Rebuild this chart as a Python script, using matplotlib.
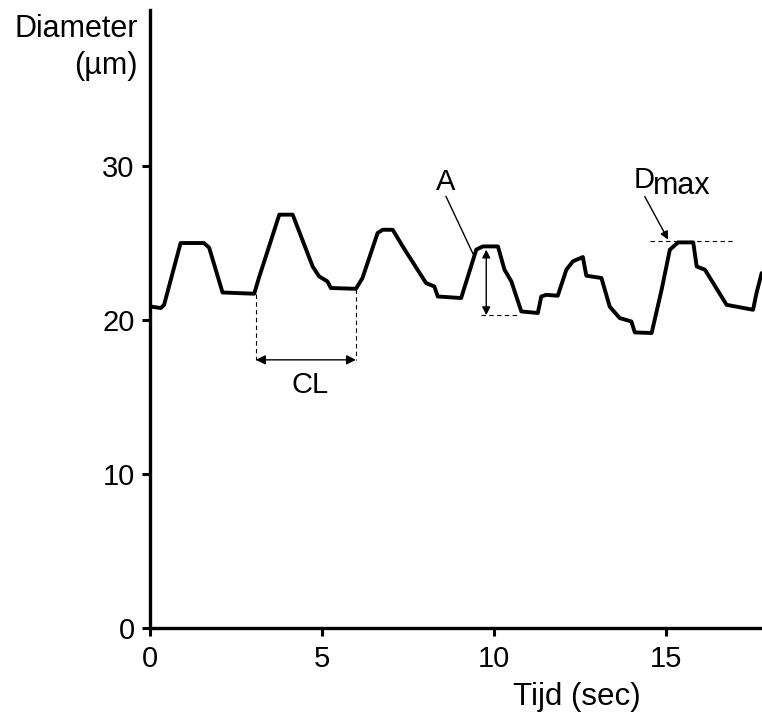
import matplotlib
matplotlib.use("Agg")
import matplotlib.pyplot as plt

plt.rcParams['font.family'] = ['Liberation Sans', 'DejaVu Sans']

# Diameter trace (time in sec, diameter in µm)
time_s = [0.02, 0.31, 0.41, 0.89, 1.57, 1.72, 2.11, 3.03, 3.18, 3.37, 3.76, 4.15,
          4.73, 4.92, 5.16, 5.26, 5.99, 6.18, 6.62, 6.77, 7.06, 7.35, 8.03, 8.27,
          8.37, 9.05, 9.49, 9.68, 10.12, 10.31, 10.51, 10.80, 11.28, 11.38, 11.53,
          11.86, 12.11, 12.30, 12.59, 12.69, 13.13, 13.37, 13.66, 14.00, 14.10,
          14.59, 14.88, 15.12, 15.36, 15.80, 15.90, 16.14, 16.77, 17.54, 17.64, 17.79]
diameter = [20.86, 20.76, 20.97, 24.98, 24.98, 24.68, 21.77, 21.69, 22.81, 24.11, 26.82, 26.82,
            23.46, 22.81, 22.49, 22.06, 22.01, 22.71, 25.63, 25.84, 25.84, 24.76, 22.38, 22.16,
            21.51, 21.41, 24.55, 24.76, 24.76, 23.25, 22.49, 20.54, 20.44, 21.51, 21.62,
            21.56, 23.25, 23.79, 24.07, 22.86, 22.71, 20.86, 20.11, 19.89, 19.18,
            19.14, 21.95, 24.55, 25.02, 25.02, 23.46, 23.25, 20.97, 20.65, 21.73, 23.03]

x_ticks = [0, 5, 10, 15]
y_ticks = [0, 10, 20, 30]

# annotation values
cl_start, cl_end = 3.08, 5.99          # cycle length markers
cl_level = 17.4
a_time, a_top, a_bottom = 9.78, 24.55, 20.3   # amplitude
dmax_level = 25.13

fig = plt.figure(figsize=(7.62, 7.16), dpi=100)
ax = fig.add_axes([150 / 762, 88 / 716, 612 / 762, 618 / 716])
ax.set_xlim(0, 17.8)
ax.set_ylim(0, 40.1)

ax.plot(time_s, diameter, color='black', lw=2.8, solid_joinstyle='round',
        solid_capstyle='round', clip_on=False)

for s in ['top', 'right']:
    ax.spines[s].set_visible(False)
for s in ['left', 'bottom']:
    ax.spines[s].set_linewidth(2.4)

ax.set_xticks(x_ticks)
ax.set_yticks(y_ticks)
ax.tick_params(axis='both', labelsize=21, width=2.2, length=6, direction='out')
ax.tick_params(axis='x', pad=6)
ax.tick_params(axis='y', pad=5)

# labels
fig.text(138 / 762, 1 - 37 / 716, 'Diameter', ha='right', va='baseline', fontsize=22)
fig.text(138 / 762, 1 - 74 / 716, '(µm)', ha='right', va='baseline', fontsize=22)
fig.text(577 / 762, 1 - 705 / 716, 'Tijd (sec)', ha='center', va='baseline', fontsize=22.5)

dash = dict(color='black', lw=0.8, ls=(0, (4, 3)))
# CL
ax.plot([cl_start, cl_start], [21.7, cl_level], **dash)
ax.plot([cl_end, cl_end], [22.0, cl_level], **dash)
ax.annotate('', xy=(cl_start, cl_level), xytext=(cl_end, cl_level),
            arrowprops=dict(arrowstyle='<|-|>', color='black', lw=1.0,
                            mutation_scale=14, shrinkA=0, shrinkB=0))
ax.text((cl_start + cl_end) / 2 + 0.12, 15.24, 'CL', ha='center', va='baseline', fontsize=21)

# A
ax.annotate('', xy=(a_time, a_top), xytext=(a_time, a_bottom),
            arrowprops=dict(arrowstyle='<|-|>', color='black', lw=1.0,
                            mutation_scale=12, shrinkA=0, shrinkB=0))
ax.plot([9.63, 10.75], [a_bottom, a_bottom], **dash)
ax.plot([8.61, 9.39], [28.0, 24.3], color='black', lw=1.0)
ax.text(8.61, 28.45, 'A', ha='center', va='baseline', fontsize=21)

# Dmax
ax.plot([14.53, 17.01], [dmax_level, dmax_level], **dash)
ax.annotate('', xy=(15.07, 25.2), xytext=(14.39, 28.0),
            arrowprops=dict(arrowstyle='-|>', color='black', lw=1.0,
                            mutation_scale=12, shrinkA=0, shrinkB=0))
ax.text(14.08, 28.55, 'D', ha='left', va='baseline', fontsize=21)
ax.text(14.62, 28.15, 'max', ha='left', va='baseline', fontsize=22)

fig.savefig('out.png', dpi=100)
